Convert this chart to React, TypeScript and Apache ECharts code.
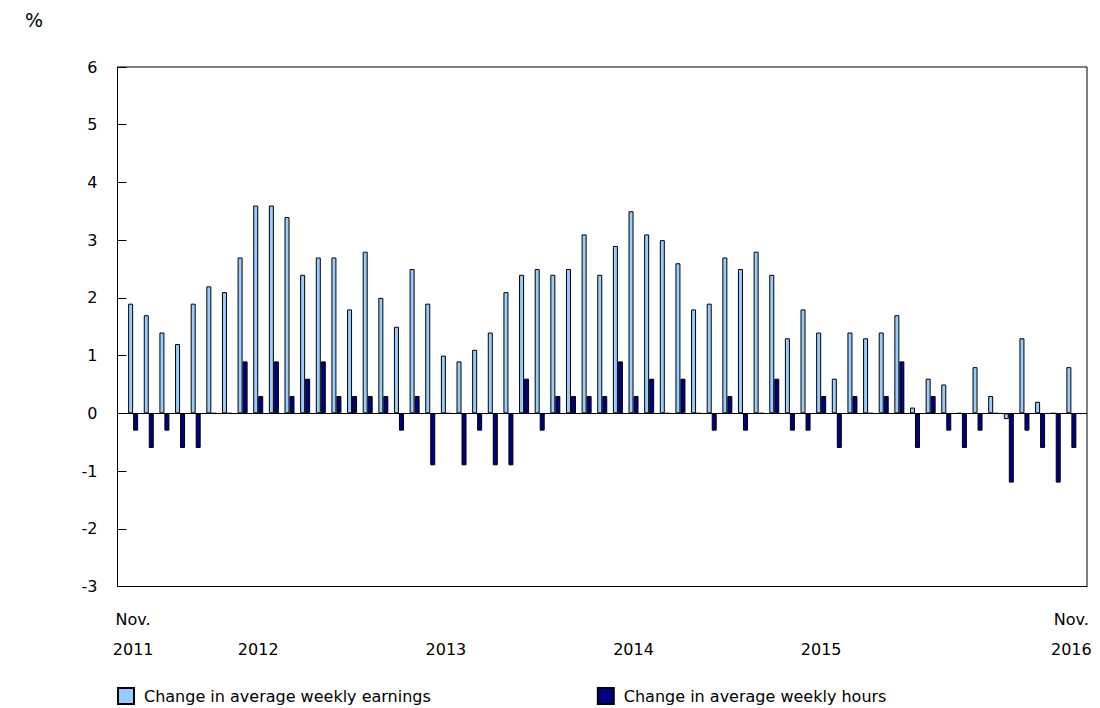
import React, { useEffect, useRef } from "react";
import * as echarts from "echarts";

// Monthly categories: Nov. 2011 .. Nov. 2016 (61 months)
const monthNames = ["Jan", "Feb", "Mar", "Apr", "May", "Jun", "Jul", "Aug", "Sep", "Oct", "Nov", "Dec"];
const startYear = 2011;
const startMonth = 10; // November (0-based)
const monthCount = 61;
const categories: string[] = Array.from({ length: monthCount }, (_, i) => {
  const m = (startMonth + i) % 12;
  const y = startYear + Math.floor((startMonth + i) / 12);
  return `${monthNames[m]} ${y}`;
});

const earnings = [
  1.9, 1.7, 1.4, 1.2, 1.9, 2.2, 2.1, 2.7, 3.6, 3.6,
  3.4, 2.4, 2.7, 2.7, 1.8, 2.8, 2.0, 1.5, 2.5, 1.9,
  1.0, 0.9, 1.1, 1.4, 2.1, 2.4, 2.5, 2.4, 2.5, 3.1,
  2.4, 2.9, 3.5, 3.1, 3.0, 2.6, 1.8, 1.9, 2.7, 2.5,
  2.8, 2.4, 1.3, 1.8, 1.4, 0.6, 1.4, 1.3, 1.4, 1.7,
  0.1, 0.6, 0.5, 0.0, 0.8, 0.3, -0.1, 1.3, 0.2, 0.0,
  0.8,
];

const hours = [
  -0.3, -0.6, -0.3, -0.6, -0.6, 0.0, 0.0, 0.9, 0.3, 0.9,
  0.3, 0.6, 0.9, 0.3, 0.3, 0.3, 0.3, -0.3, 0.3, -0.9,
  0.0, -0.9, -0.3, -0.9, -0.9, 0.6, -0.3, 0.3, 0.3, 0.3,
  0.3, 0.9, 0.3, 0.6, 0.0, 0.6, 0.0, -0.3, 0.3, -0.3,
  0.0, 0.6, -0.3, -0.3, 0.3, -0.6, 0.3, 0.0, 0.3, 0.9,
  -0.6, 0.3, -0.3, -0.6, -0.3, 0.0, -1.2, -0.3, -0.6, -1.2,
  -0.6,
];

// x-axis tick labels (index into categories -> label)
const tickIndices = [0, 8, 20, 32, 44, 60];
const tickLabels = ["Nov.\n2011", "\n2012", "\n2013", "\n2014", "\n2015", "Nov.\n2016"];

const seriesNames = ["Change in average weekly earnings", "Change in average weekly hours"];
const yTicks = { min: -3, max: 6, interval: 1 };

const FONT = "Verdana, 'DejaVu Sans', sans-serif";

export default function App() {
  const ref = useRef<HTMLDivElement>(null);

  useEffect(() => {
    if (!ref.current) return;
    const chart = echarts.init(ref.current, undefined, { renderer: "svg" });
    const labelMap: Record<number, string> = {};
    tickIndices.forEach((idx, k) => (labelMap[idx] = tickLabels[k]));

    const option: any = {
      animation: false,
      backgroundColor: "#ffffff",
      textStyle: { fontFamily: FONT, color: "#000" },
      title: {
        text: "%",
        left: 25,
        top: 10,
        padding: 0,
        textStyle: { fontFamily: FONT, fontSize: 19, fontWeight: "normal", color: "#000" },
      },
      grid: {
        left: 117.5,
        right: 13,
        top: 67,
        bottom: 121.5,
        show: true,
        borderColor: "#000",
        borderWidth: 1,
        backgroundColor: "transparent",
      },
      legend: {
        left: 117,
        top: 687,
        padding: 0,
        itemWidth: 16,
        itemHeight: 16,
        itemGap: 166,
        icon: "rect",
        textStyle: { fontFamily: FONT, fontSize: 16, color: "#000", padding: [0, 0, 0, 5] },
        data: seriesNames,
      },
      xAxis: {
        type: "value",
        min: -1,
        max: monthCount,
        interval: 1,
        splitLine: { show: false },
        axisLine: { show: true, onZero: false, lineStyle: { color: "#000", width: 1 } },
        axisTick: { show: false },
        axisLabel: {
          show: true,
          margin: 18,
          fontFamily: FONT,
          fontSize: 16,
          lineHeight: 30,
          color: "#000",
          showMinLabel: true,
          showMaxLabel: true,
          formatter: (v: number) => (labelMap[v] !== undefined ? labelMap[v] : ""),
        },
      },
      yAxis: {
        type: "value",
        min: yTicks.min,
        max: yTicks.max,
        interval: yTicks.interval,
        splitLine: { show: false },
        axisLine: { show: true, onZero: false, lineStyle: { color: "#000", width: 1 } },
        axisTick: { show: true, inside: true, length: 9, lineStyle: { color: "#000" } },
        axisLabel: { margin: 20, fontFamily: FONT, fontSize: 16, color: "#000" },
      },
      series: [
        {
          name: seriesNames[0],
          type: "bar",
          barWidth: 5,
          barGap: "0%",
          data: earnings.map((v, i) => [i, v, categories[i]]),
          itemStyle: { color: "#99CCFF", borderColor: "#000", borderWidth: 1 },
          markLine: {
            silent: true,
            symbol: "none",
            label: { show: false },
            lineStyle: { color: "#000", width: 1, type: "solid" },
            data: [{ yAxis: 0 }],
          },
        },
        {
          name: seriesNames[1],
          type: "bar",
          barWidth: 5,
          barGap: "0%",
          data: hours.map((v, i) => [i, v, categories[i]]),
          itemStyle: { color: "#000080", borderColor: "#000", borderWidth: 1 },
        },
      ],
    };
    chart.setOption(option);
    return () => chart.dispose();
  }, []);

  return (
    <div
      ref={ref}
      style={{ position: "fixed", left: 0, top: 0, width: 1100, height: 708, background: "#fff" }}
    />
  );
}
